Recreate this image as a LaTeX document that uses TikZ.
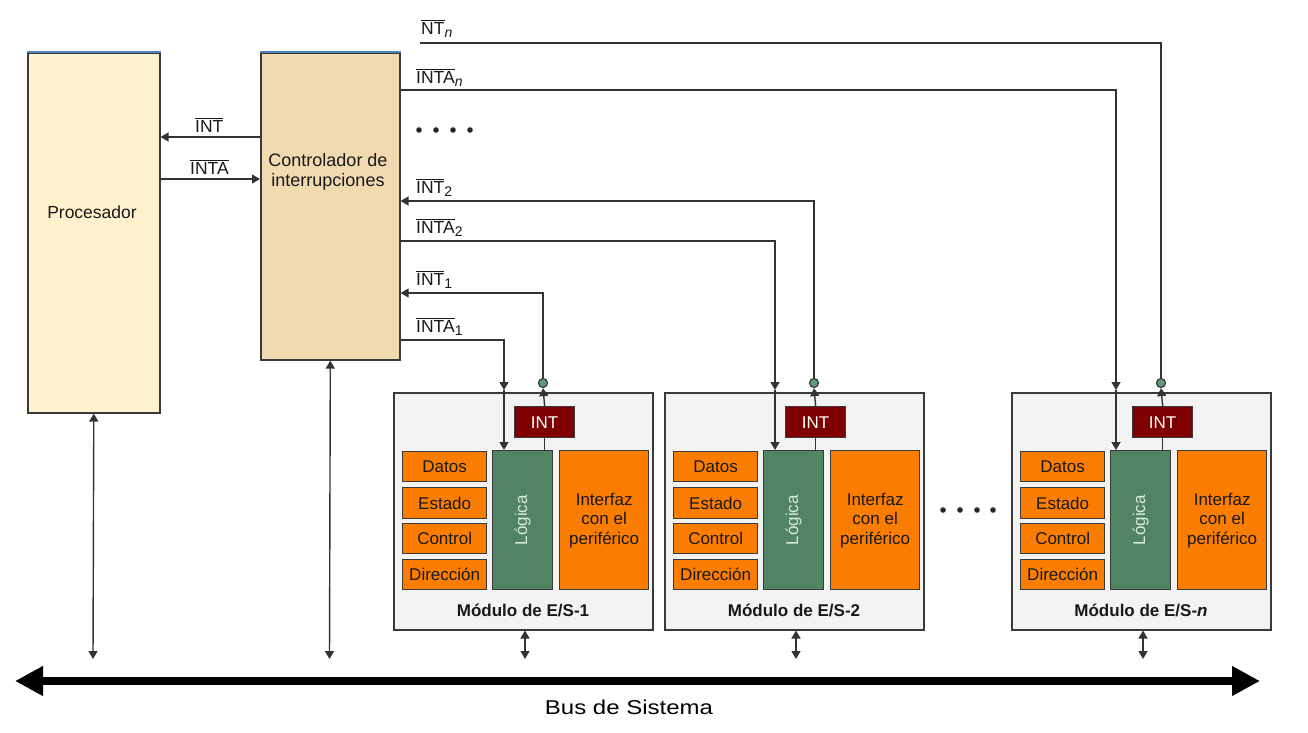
\documentclass[tikz,border=0pt]{standalone}
\usepackage{fontspec}
\setmainfont{Liberation Sans}
\usetikzlibrary{arrows.meta}
\definecolor{procfill}{HTML}{FFF2CC}
\definecolor{ctrlfill}{HTML}{F1DAB0}
\definecolor{boxline}{HTML}{3A3A3A}
\definecolor{topblue}{HTML}{4F81BD}
\definecolor{modfill}{HTML}{F3F3F3}
\definecolor{orangef}{HTML}{FA7D00}
\definecolor{logicf}{HTML}{508462}
\definecolor{logict}{HTML}{D8EBD8}
\definecolor{intf}{HTML}{7F0000}
\definecolor{dotf}{HTML}{5E9C76}
\definecolor{linec}{HTML}{333333}
\newcommand\ovl[1]{\ensuremath{\overline{\hbox{#1}}}}
\newcommand\sbx[1]{\raisebox{-0.4ex}{\fontsize{14}{14}\selectfont #1}}
\begin{document}
\begin{tikzpicture}[x=1pt,y=-1pt,
  line/.style={draw=linec,line width=1.4pt},
  arr/.style={line,-{Triangle[length=8pt,width=9pt]}},
  dbl/.style={line,{Triangle[length=8pt,width=9pt]}-{Triangle[length=8pt,width=9pt]}},
  bigbox/.style={draw=boxline,line width=1.6pt,anchor=north west,inner sep=0pt},
  modbox/.style={draw=boxline,fill=modfill,line width=1.5pt,anchor=north west,inner sep=0pt,minimum width=259pt,minimum height=237pt},
  regbox/.style={draw=boxline,fill=orangef,line width=1.3pt,anchor=north west,inner sep=0pt,minimum width=84pt,text=black!90,font=\fontsize{17}{19}\selectfont},
  logbox/.style={draw=boxline,fill=logicf,line width=1.3pt,anchor=north west,inner sep=0pt,minimum width=60pt,minimum height=139pt},
  ifbox/.style={draw=boxline,fill=orangef,line width=1.3pt,anchor=north west,inner sep=0pt,minimum width=89pt,minimum height=139pt,align=center,text=black!90,font=\fontsize{17}{19.5}\selectfont},
  intbox/.style={draw=boxline,fill=intf,line width=1.3pt,anchor=north west,inner sep=0pt,minimum width=60pt,minimum height=31pt,text=white,font=\fontsize{17}{19}\selectfont},
  sdot/.style={circle,draw=boxline,fill=dotf,line width=1.2pt,inner sep=0pt,minimum size=9pt},
  txt/.style={inner sep=0pt,font=\fontsize{17.5}{20}\selectfont,text=black!90},
  sig/.style={inner sep=0pt,anchor=base west,font=\fontsize{17.5}{20}\selectfont,text=black!90},
  modlab/.style={inner sep=0pt,font=\bfseries\fontsize{17}{19}\selectfont,text=black!90}
]
\useasboundingbox[fill=white] (0,0) rectangle (1308,732);

% Processor and controller
\node[bigbox,fill=procfill,minimum width=132pt,minimum height=360pt] (proc) at (27,52) {};
\node[bigbox,fill=ctrlfill,minimum width=139pt,minimum height=307pt] (ctrl) at (260,52) {};
\draw[topblue,line width=1.4pt] (proc.north west) -- (proc.north east);
\draw[topblue,line width=1.4pt] (ctrl.north west) -- (ctrl.north east);
\node[txt] (proct) at (92,212) {Procesador};
\node[txt,align=center,font=\fontsize{18}{19.5}\selectfont] (ctrlt) at (328,172) {Controlador de\\interrupciones};

% Processor <-> controller signals
\draw[arr] (ctrl.west |- 0,137) -- (proc.east |- 0,137);
\draw[arr] (proc.east |- 0,179) -- (ctrl.west |- 0,179);
\node[sig] (lint) at (195,132) {\ovl{INT}};
\node[sig] (linta) at (190,174) {\ovl{INTA}};

% Modules
\foreach \L/\vx/\id/\lab in {393/504/1/1, 664/775/2/2, 1011/1116/n/\textit{n}} {
  \node[modbox] (m\id) at (\L,392) {};
  \node[regbox,minimum height=30pt] (m\id-d) at (\L+9,451) {Datos};
  \node[regbox,minimum height=31pt] (m\id-e) at (\L+9,487) {Estado};
  \node[regbox,minimum height=30pt] (m\id-k) at (\L+9,523) {Control};
  \node[regbox,minimum height=30pt] (m\id-a) at (\L+9,559) {Dirección};
  \node[logbox] (m\id-log) at (\L+99,450) {};
  \node[rotate=90,text=logict,inner sep=0pt,font=\fontsize{17}{19}\selectfont] (m\id-logt) at (m\id-log.center) {Lógica};
  \node[ifbox] (m\id-if) at (\L+166,450) {Interfaz\\con el\\periférico};
  \node[intbox] (m\id-int) at (\L+121,406) {INT};
  \node[sdot] (m\id-c) at (\L+150,383) {};
  \node[modlab] (m\id-lab) at (\L+130,610) {Módulo de E/S-\lab};
  \coordinate (m\id-in) at (\vx,390);
  \coordinate (m\id-bus) at (\L+132,659);
  \draw[arr] (m\id-in) -- (m\id-in |- m\id-log.north);
  \draw[arr] (m\id-int.north) -- (m\id-c.south);
  \draw[line] (m\id-log.north -| m\id-int.south) -- (m\id-int.south);
  \draw[dbl] (m\id-bus |- m\id.south) -- (m\id-bus);
}

% Controller <-> modules
\draw[arr] (ctrl.east |- 0,340) -| (m1-in);
\draw[arr] (m1-c.north) |- (ctrl.east |- 0,293);
\draw[arr] (ctrl.east |- 0,241) -| (m2-in);
\draw[arr] (m2-c.north) |- (ctrl.east |- 0,201);
\draw[arr] (ctrl.east |- 0,90) -| (mn-in);
\coordinate (ntn) at (420,43);
\draw[line] (mn-c.north) |- (ntn);

\node[sig] (lntn) at (421,34) {\ovl{NT}\sbx{\textit{n}}};
\node[sig] (lintan) at (416,83) {\ovl{INTA}\sbx{\textit{n}}};
\node[sig] (lint2) at (416,193) {\ovl{INT}\sbx{2}};
\node[sig] (linta2) at (416,233) {\ovl{INTA}\sbx{2}};
\node[sig] (lint1) at (416,285) {\ovl{INT}\sbx{1}};
\node[sig] (linta1) at (416,332) {\ovl{INTA}\sbx{1}};

% dots
\foreach \x in {419,436,453,470} \fill[black!85] (\x,130) circle (2.8pt);
\foreach \x in {943,960,977,993} \fill[black!85] (\x,510) circle (2.8pt);

% System bus
\coordinate (busL) at (15,681);
\coordinate (busR) at (1260,681);
\draw[black,line width=8pt,{Triangle[length=28pt,width=28pt]}-{Triangle[length=28pt,width=28pt]}] (busL) -- (busR);
\coordinate (pbus) at (93,659);
\coordinate (cbus) at (329.5,659);
\draw[dbl] (proc.south) -- (pbus);
\draw[dbl] (ctrl.south) -- (cbus);
\node[inner sep=0pt,font=\fontsize{20}{22}\selectfont] (bust) at (629,707) {\scalebox{1.2}[1]{Bus de Sistema}};
\end{tikzpicture}
\end{document}
